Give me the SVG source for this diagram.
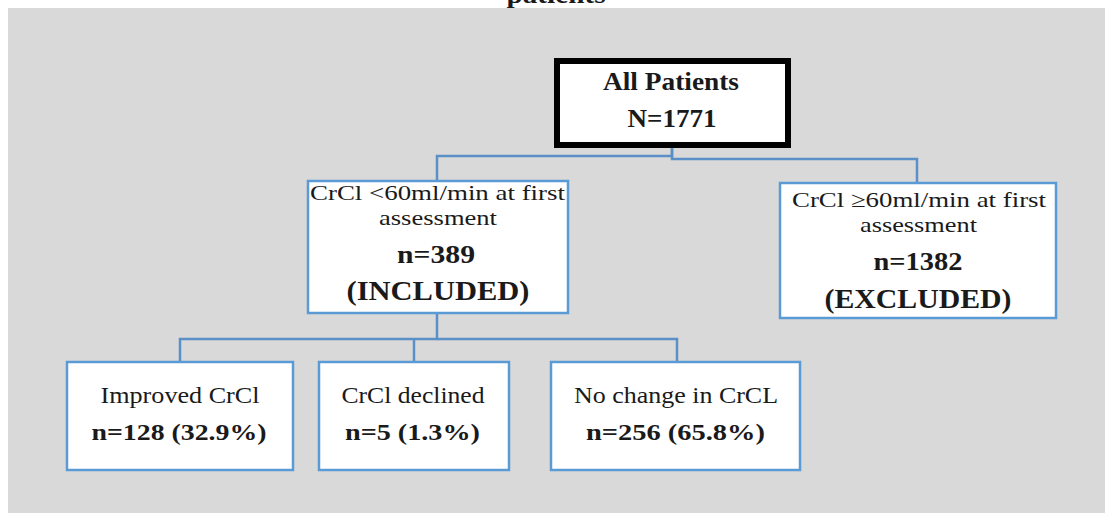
<svg xmlns="http://www.w3.org/2000/svg" width="1105" height="514" viewBox="0 0 1105 514">
<style>
.t{font-family:"Liberation Serif","Times New Roman",serif;fill:#1a1a1a;text-anchor:middle}
.r{font-weight:normal}
.b{font-weight:bold}
.box{fill:#ffffff;stroke:#5b9bd5;stroke-width:2.5}
.main{fill:#ffffff;stroke:#000000;stroke-width:6}
.c{fill:none;stroke:#5b8fc7;stroke-width:2.5}
</style>
<rect x="0" y="0" width="1105" height="514" fill="#ffffff"/>
<rect x="8" y="8" width="1097" height="505" fill="#d9d9d9"/>
<text class="t b" x="556" y="3" font-size="26" textLength="99" lengthAdjust="spacingAndGlyphs">patients</text>
<g id="connectors">
<path class="c" d="M672 148 V156 H437 V180"/>
<path class="c" d="M672 148 V159 H917 V182"/>
<path class="c" d="M437 313 V339 H180 V362"/>
<path class="c" d="M437 339 H677 V362"/>
<path class="c" d="M414 339 V362"/>
</g>
<g id="all-patients">
<rect class="main" x="557" y="61" width="231" height="84"/>
<text class="t b" x="671" y="90" font-size="25" textLength="136" lengthAdjust="spacingAndGlyphs">All Patients</text>
<text class="t b" x="672" y="127" font-size="25" textLength="89" lengthAdjust="spacingAndGlyphs">N=1771</text>
</g>
<g id="included">
<rect class="box" x="308" y="181" width="260" height="132"/>
<text class="t r" x="437.5" y="200" font-size="22" textLength="255" lengthAdjust="spacingAndGlyphs">CrCl &lt;60ml/min at first</text>
<text class="t r" x="438" y="225" font-size="22" textLength="118" lengthAdjust="spacingAndGlyphs">assessment</text>
<text class="t b" x="436" y="263" font-size="26" textLength="78" lengthAdjust="spacingAndGlyphs">n=389</text>
<text class="t b" x="438" y="300" font-size="28" textLength="183" lengthAdjust="spacingAndGlyphs">(INCLUDED)</text>
</g>
<g id="excluded">
<rect class="box" x="780" y="183" width="276" height="135"/>
<text class="t r" x="919" y="207" font-size="22" textLength="254" lengthAdjust="spacingAndGlyphs">CrCl ≥60ml/min at first</text>
<text class="t r" x="918.5" y="232" font-size="22" textLength="117" lengthAdjust="spacingAndGlyphs">assessment</text>
<text class="t b" x="918" y="270" font-size="26" textLength="89" lengthAdjust="spacingAndGlyphs">n=1382</text>
<text class="t b" x="918" y="308" font-size="28" textLength="187" lengthAdjust="spacingAndGlyphs">(EXCLUDED)</text>
</g>
<g id="improved">
<rect class="box" x="67" y="362" width="226" height="108"/>
<text class="t r" x="180" y="403" font-size="23" textLength="159" lengthAdjust="spacingAndGlyphs">Improved CrCl</text>
<text class="t b" x="179" y="440" font-size="24" textLength="175" lengthAdjust="spacingAndGlyphs">n=128 (32.9%)</text>
</g>
<g id="declined">
<rect class="box" x="319" y="362" width="190" height="108"/>
<text class="t r" x="413" y="403" font-size="23" textLength="143" lengthAdjust="spacingAndGlyphs">CrCl declined</text>
<text class="t b" x="412.5" y="440" font-size="24" textLength="135" lengthAdjust="spacingAndGlyphs">n=5 (1.3%)</text>
</g>
<g id="no-change">
<rect class="box" x="551" y="362" width="249" height="108"/>
<text class="t r" x="676" y="403" font-size="23" textLength="204" lengthAdjust="spacingAndGlyphs">No change in CrCL</text>
<text class="t b" x="675.5" y="440" font-size="24" textLength="179" lengthAdjust="spacingAndGlyphs">n=256 (65.8%)</text>
</g>
</svg>
